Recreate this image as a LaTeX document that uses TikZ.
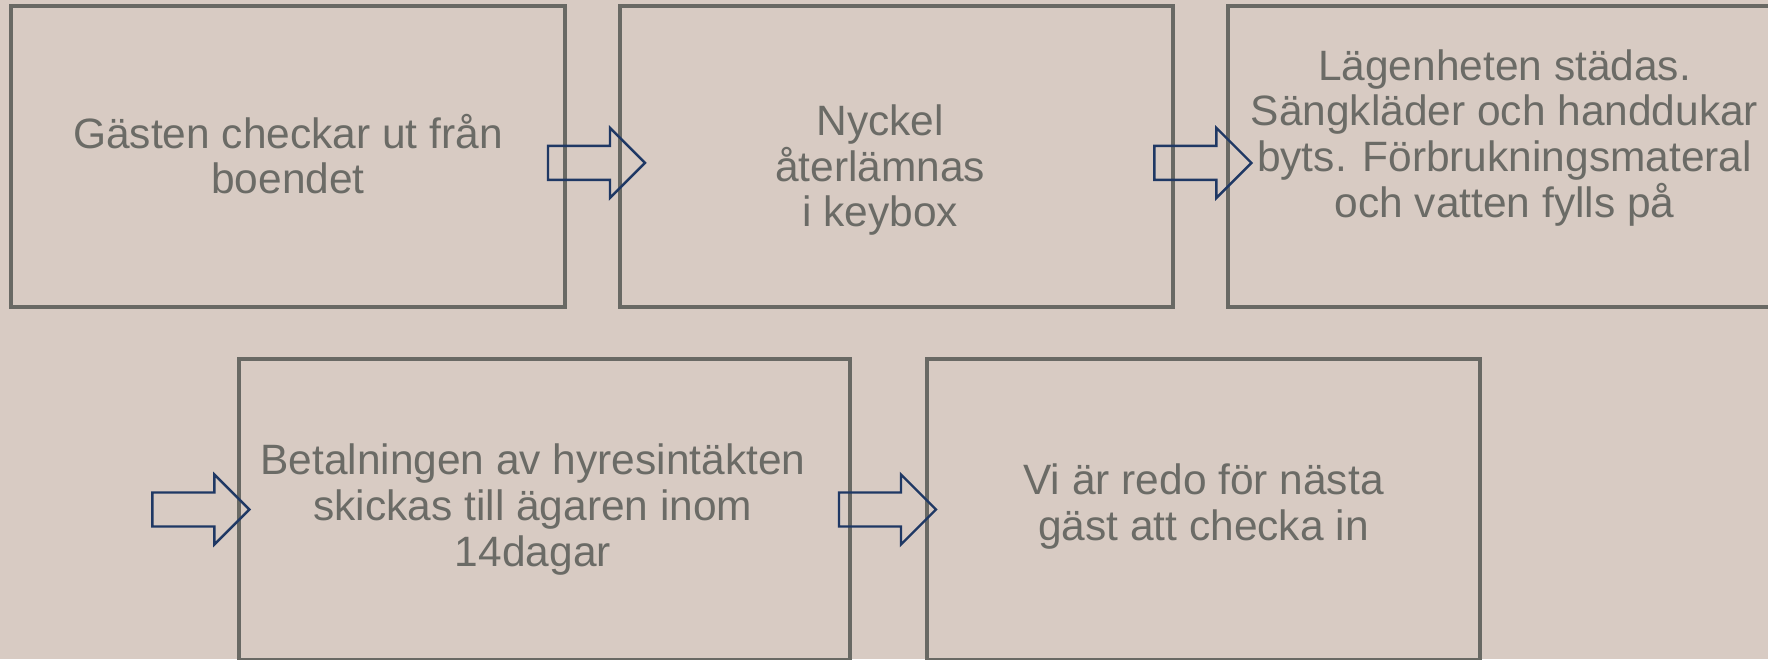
\documentclass[tikz,border=0pt]{standalone}
\usepackage{fontspec}
\setmainfont{Liberation Sans}
\usetikzlibrary{calc}

\definecolor{bgbeige}{HTML}{D8CBC3}
\definecolor{boxgray}{HTML}{696964}
\definecolor{textgray}{HTML}{6B6B66}
\definecolor{arrownavy}{HTML}{1F3864}

\tikzset{
  stepbox/.style={draw=boxgray, line width=2.4pt, rectangle, inner sep=0pt,
    minimum width=13.825cm, minimum height=7.525cm},
  steptext/.style={text=textgray, align=center, inner sep=0pt,
    font=\fontsize{30.2}{32.5}\selectfont},
  arrowline/.style={draw=arrownavy, line width=1.7pt},
  blockarrow/.pic={
    \draw[arrowline] (-1.2125,0.425) -- (0.3375,0.425) -- (0.3375,0.875) -- (1.2125,0)
      -- (0.3375,-0.875) -- (0.3375,-0.425) -- (-1.2125,-0.425) -- cycle;
  }
}

\begin{document}
\begin{tikzpicture}
        % Background
        \fill[bgbeige] (0,0) rectangle (44.2,16.475);
        \useasboundingbox (0,0) rectangle (44.2,16.475);

        % Top row
        \node[stepbox, minimum width=13.85cm] (b1) at (7.2,12.5625) {};
        \node[stepbox] (b2) at (22.4125,12.5625) {};
        \node[stepbox] (b3) at (37.6125,12.5625) {};

        % Bottom row
        \node[stepbox, minimum width=15.275cm] (b4) at (13.6125,3.7375) {};
        \node[stepbox] (b5) at (30.0875,3.7375) {};

        % Texts
        \node[steptext] (t1) at ([yshift=0.06cm]b1.center) {Gästen checkar ut från\\boendet};
        \node[steptext] (t2) at ([xshift=-0.41cm,yshift=-0.34cm]b2.center) {Nyckel\\återlämnas\\i keybox};
        \node[steptext] (t3) at ([yshift=0.47cm]b3.center) {Lägenheten städas.\\Sängkläder och handdukar\\byts. Förbrukningsmateral\\och vatten fylls på};
        \node[steptext] (t4) at ([xshift=-0.29cm]b4.center) {Betalningen av hyresintäkten\\skickas till ägaren inom\\14dagar};
        \node[steptext] (t5) at ([yshift=0.08cm]b5.center) {Vi är redo för nästa\\gäst att checka in};

        % Arrows
        \pic at ($(b1.east)!0.5!(b2.west)+(0.1,-0.16)$) {blockarrow};
        \pic at ($(b2.east)!0.5!(b3.west)+(0.06,-0.16)$) {blockarrow};
        \pic at ($(b4.west)+(-0.91,0)$) {blockarrow};
        \pic at ($(b4.east)!0.5!(b5.west)+(-0.025,0)$) {blockarrow};

\end{tikzpicture}
\end{document}
